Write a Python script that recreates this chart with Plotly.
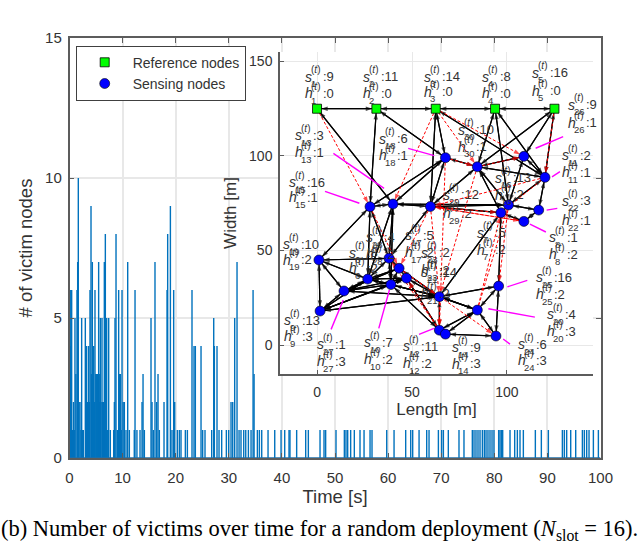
import plotly.graph_objects as go

# ---- time series: number of victim nodes
times = [0.09,0.15,0.25,0.41,0.6,0.75,0.9,1.03,1.2,1.41,1.54,1.66,1.8,1.98,2.15,2.29,2.45,2.6,2.98,3.1,3.23,3.4,3.5,3.61,3.75,3.86,4.05,4.15,4.3,4.4,4.55,4.7,4.8,4.95,5.1,5.24,5.35,5.49,5.6,5.7,5.81,5.95,6.12,6.25,6.4,6.56,6.65,6.75,6.9,7.0,7.2,7.38,7.69,8.32,8.45,8.57,8.76,9.01,9.26,9.4,9.58,9.75,9.89,10.1,10.33,10.64,10.96,11.27,12.2,12.34,12.7,13.28,13.66,13.85,14.1,15.35,15.54,15.79,16.1,16.42,16.67,16.92,17.8,18.37,18.49,19.0,19.3,19.62,19.81,20.31,20.69,21.0,21.82,22.2,23.07,23.45,23.7,24.77,25.08,25.52,26.78,27.16,27.28,27.78,28.16,28.66,29.54,29.98,30.42,30.74,31.11,31.55,31.93,32.3,32.81,33.19,33.69,34.19,34.57,34.76,35.38,35.76,36.2,37.39,38.65,39.84,40.53,41.34,41.52,42.78,44.48,44.98,47.18,47.93,48.24,50.19,51.76,52.07,52.39,52.95,53.64,54.71,55.47,56.6,56.97,59.74,61.12,63.31,64.26,64.63,65.83,67.27,67.71,69.47,70.08,70.41,71.34,73.35,74.29,75.86,76.18,76.55,76.93,77.31,77.75,78.12,78.44,78.81,79.19,79.57,79.94,80.82,81.07,81.33,81.58,82.96,83.84,84.34,84.84,85.47,87.73,88.86,90.18,92.82,93.19,93.63,94.39,95.33,96.59,96.96,97.4,97.84,98.66,99.6]
victims = [6,4,6,6,1,2,1,5,3,6,7,10,2,2,1,5,1,1,5,2,4,2,2,4,2,6,9,3,7,2,4,2,6,3,3,3,3,7,3,2,5,2,5,2,2,7,1,8,3,5,1,5,1,1,2,5,8,1,6,3,3,1,6,2,2,1,7,1,1,6,1,1,2,3,1,5,2,1,7,2,3,1,2,6,8,9,1,6,2,1,1,1,1,1,6,4,4,4,1,1,1,5,4,4,1,1,1,1,2,2,5,7,1,1,1,1,1,1,6,3,1,1,1,1,1,1,1,1,1,1,1,1,1,1,1,1,1,1,1,1,1,1,1,1,1,1,1,1,1,1,1,1,1,1,1,1,1,1,1,1,1,1,1,1,1,1,1,1,1,1,1,1,1,1,1,1,1,1,1,1,1,1,1,1,1,1,1,1,1,1,1,1,1,1,1,1,1,1]

# ---- node ids and positions in metres
ref_x = [0, 31.25, 62.5, 93.75, 125]
ref_y = [125, 125, 125, 125, 125]
sense_id = [6,7,8,9,10,11,12,13,14,15,16,17,18,19,20,21,22,23,24,25,26,27,28,29,30]
sense_x = [37.9,96.8,108.9,1.6,38.9,120,64.4,40,67.6,27.9,100.8,43.2,67.6,1,84.4,64.4,116.7,47.1,94.2,95.6,108.9,14.2,26.7,59.7,84.4]
sense_y = [45.9,70,65.4,18,32,88.7,7.9,74.6,5.8,73.2,74.1,40.6,99.1,45,18.5,25.6,71.4,35.4,4.8,31.2,99.8,28.6,34.9,73.3,94.3]

# ---- links between nodes
black_edges = [(1,2),(2,3),(3,4),(4,5),(1,13),(2,15),(2,18),(3,18),(3,29),(3,11),(4,30),(4,16),(4,11),
    (5,26),(5,30),(5,11),(18,30),(18,15),(18,13),(18,29),(30,16),(30,29),(30,26),(30,11),(30,7),(26,11),(26,16),
    (11,16),(11,22),(15,13),(13,29),(15,19),(19,9),(19,6),(19,28),(19,27),(9,27),(9,28),(9,10),(27,28),(27,10),
    (28,10),(6,17),(17,23),(10,23),(6,15),(13,6),(13,28),(29,6),(29,16),(29,7),(7,21),(7,25),(25,21),(21,20),
    (21,12),(21,23),(12,14),(12,23),(14,24),(24,20),(24,25),(20,25),(20,12),(20,14),(20,21),(13,16),(10,21),
    (27,21),(28,21),(10,12),(9,21),(17,21),(15,28),(13,10),(8,22),(7,8),(16,7),(16,22),(28,6),(10,17),
    (9,23),(27,23),(27,17),(28,17),(28,23),(10,6)]
red_edges = [(1,15),(3,13),(3,26),(5,11),(18,30),(30,26),(30,21),(11,7),(11,29),(15,17),(29,21),(29,8),(29,17),
    (17,21),(12,6),(20,7),(20,16),(17,24),(21,12),(16,25),(29,7),(12,23),(3,30),(18,12),(8,29)]

# ---- node labels
ids = list(range(1, 31))
s_vals = [9,11,14,8,16,8,5,1,13,7,2,11,3,9,16,13,5,6,10,4,14,3,2,6,16,9,1,4,12,10]
h_vals = [0,0,0,0,0,2,2,2,3,2,1,2,1,3,1,2,2,1,2,3,2,1,2,3,2,1,3,2,2,1]
label_x = [-6.8,23.7,55.8,86.3,112.6,16.3,83.7,121.6,-17.9,24.2,128.4,44.7,-12.1,70.5,-15.3,93.2,45.8,32.1,-18.4,120.5,54.2,128.4,54.2,105.3,114.7,131.6,-0.5,25.3,65.8,73.7]
label_sy = [141.8,141.8,141.8,141.8,143.9,48.7,59.3,57.1,13.2,1.6,100.5,-0.5,111.1,-1.1,86.2,88.4,58.2,109,53.4,16.4,38.6,76.2,48.7,0.5,36,127,0.5,57.1,79.4,113.8]
label_hy = [133.3,133.3,133.9,133.3,134.4,40.7,50.3,48.1,4.8,-7.4,91.5,-9.5,102.1,-10,78.3,79.4,49.2,100.5,45,7.4,27.5,66.1,39.7,-7.9,27,117.5,-8.5,48.1,69.8,104.8]

# ---- magenta leader segments, metres
lead_x0 = [8.6,48,4.2,115.1,123.7,120.9,112.1,13.8,38.1,53.7,100.2,90.2,98]
lead_y0 = [101.4,104,81.3,104.1,89,71.4,64,23.8,29.1,5.7,30.8,19.2,3.2]
lead_x1 = [35.3,61.7,22.3,129.6,127.9,126.5,120.5,7.4,32.5,61.6,110.7,114.7,101.6]
lead_y1 = [82.9,100.2,75,110.2,91.7,72.3,59.8,8.3,8.8,8.8,34.2,14.8,0.5]

GRID = "#e8e8e8"
AXC = "#5c5c5c"
TXT = "#333333"
W, H = 640, 543
pos = dict(zip(range(1, 6), zip(ref_x, ref_y)))
pos.update(zip(sense_id, zip(sense_x, sense_y)))


def edge_arrays(edges, both):
    xs, ys, sz = [], [], []
    for a, b in edges:
        pairs = [(a, b), (b, a)] if both else [(a, b)]
        for p, q in pairs:
            xs += [pos[p][0], pos[q][0], None]
            ys += [pos[p][1], pos[q][1], None]
            sz += [0, 7, 0]
    return xs, ys, sz


stem_x, stem_y = [], []
for t, v in zip(times, victims):
    stem_x += [t, t, None]
    stem_y += [0, v, None]

fig = go.Figure()
fig.add_trace(go.Scatter(x=stem_x, y=stem_y, mode="lines", line=dict(color="#0072BD", width=1.4), hoverinfo="skip",
                         showlegend=False, xaxis="x", yaxis="y"))
fig.add_trace(go.Scatter(x=[0, 100], y=[0, 0], mode="lines", line=dict(color="#1f6fa8", width=1.5), hoverinfo="skip",
                         cliponaxis=False, showlegend=False, xaxis="x", yaxis="y"))
bx, by, bs = edge_arrays(black_edges, True)
fig.add_trace(go.Scatter(x=bx, y=by, mode="lines+markers", xaxis="x2", yaxis="y2", showlegend=False,
                         line=dict(color="black", width=1.2),
                         marker=dict(symbol="arrow", size=bs, angleref="previous", standoff=4, color="black", line=dict(width=0))))
rx, ry, rs = edge_arrays(red_edges, False)
fig.add_trace(go.Scatter(x=rx, y=ry, mode="lines+markers", xaxis="x2", yaxis="y2", showlegend=False,
                         line=dict(color="#ff0000", width=1, dash="3px,2px"),
                         marker=dict(symbol="arrow", size=rs, angleref="previous", standoff=4, color="#ff0000", line=dict(width=0))))
lx, ly = [], []
for a, b, c, d in zip(lead_x0, lead_y0, lead_x1, lead_y1):
    lx += [a, c, None]
    ly += [b, d, None]
fig.add_trace(go.Scatter(x=lx, y=ly, mode="lines", xaxis="x2", yaxis="y2", showlegend=False,
                         line=dict(color="#ff00ff", width=1.4)))
fig.add_trace(go.Scatter(x=ref_x, y=ref_y, mode="markers", name="Reference nodes", xaxis="x2", yaxis="y2",
                         marker=dict(symbol="square", size=9, color="#00ff00", line=dict(color="black", width=0.8))))
fig.add_trace(go.Scatter(x=sense_x, y=sense_y, mode="markers", name="Sensing nodes", xaxis="x2", yaxis="y2",
                         marker=dict(symbol="circle", size=10, color="#0000ff", line=dict(color="black", width=0.6))))

ann = []


def lab(x, y, base, idx, val):
    common = dict(x=x, y=y, xref="x2", yref="y2", showarrow=False, xanchor="left", yanchor="middle", borderpad=0)
    ann.append(dict(text=f"<i>{base}</i>", xshift=0, yshift=0, font=dict(size=14, color=TXT, family="Liberation Sans"), **common))
    ann.append(dict(text="(<i>t</i>)", xshift=6, yshift=7, font=dict(size=10, color=TXT, family="Liberation Sans"), **common))
    ann.append(dict(text=str(idx), xshift=6, yshift=-7, font=dict(size=9.5, color=TXT, family="Liberation Sans"), **common))
    ann.append(dict(text=f":{val}", xshift=18, yshift=0, font=dict(size=13, color=TXT, family="Liberation Sans"), **common))


for i, s, h, x, ys, yh in zip(ids, s_vals, h_vals, label_x, label_sy, label_hy):
    lab(x, ys, "s", i, s)
    lab(x, yh, "h", i, h)

ann.append(dict(text="(b) Number of victims over time for a random deployment (<i>N</i><sub>slot</sub> = 16).",
                xref="paper", yref="paper", x=0, y=(543 - 530) / H, xanchor="left", yanchor="middle",
                showarrow=False, borderpad=0,
                font=dict(size=22.5, color="black", family="Liberation Serif")))

fig.update_layout(
    width=W, height=H, margin=dict(l=0, r=0, t=0, b=0, autoexpand=False), paper_bgcolor="white", plot_bgcolor="white",
    font=dict(family="Liberation Sans", color=TXT),
    xaxis=dict(domain=[69.5 / W, 600.5 / W], range=[0, 100], tickvals=list(range(0, 101, 10)), showgrid=True,
               gridcolor=GRID, gridwidth=1.5, zeroline=False, showline=True, linecolor=AXC, linewidth=1.5, mirror="ticks",
               ticks="inside", ticklen=5, tickcolor=AXC, tickfont=dict(size=15), ticklabelstandoff=5, automargin=True,
               title=dict(text="Time [s]", font=dict(size=18.5), standoff=5)),
    yaxis=dict(domain=[(H - 458) / H, (H - 38) / H], range=[0, 15], tickvals=[0, 5, 10, 15], showgrid=True,
               gridcolor=GRID, gridwidth=1.5, zeroline=False, showline=True, linecolor=AXC, linewidth=1.5, mirror="ticks",
               ticks="inside", ticklen=5, tickcolor=AXC, tickfont=dict(size=15), ticklabelstandoff=3, automargin=True,
               title=dict(text="# of victim nodes", font=dict(size=18.5), standoff=8)),
    xaxis2=dict(domain=[280 / W, 593 / W], range=[-19.5, 145.3], anchor="y2", tickvals=[0, 50, 100], showgrid=True,
                gridcolor=GRID, gridwidth=1.2, zeroline=False, showline=True, linecolor=AXC, linewidth=1.5,
                ticks="inside", ticklen=4, tickcolor=AXC, tickfont=dict(size=14), ticklabelstandoff=4, automargin=True,
                title=dict(text="Length [m]", font=dict(size=17), standoff=5)),
    yaxis2=dict(domain=[(H - 374) / H, (H - 52) / H], range=[-15.3, 155], anchor="x2", tickvals=[0, 50, 100, 150], showgrid=True,
                gridcolor=GRID, gridwidth=1.2, zeroline=False, showline=True, linecolor=AXC, linewidth=1.5,
                ticks="inside", ticklen=4, tickcolor=AXC, tickfont=dict(size=14), ticklabelstandoff=3, automargin=True,
                title=dict(text="Width [m]", font=dict(size=17), standoff=8)),
    legend=dict(x=75.7 / W, y=(H - 45.7) / H, xanchor="left", yanchor="top", bgcolor="white", bordercolor="#404040",
                borderwidth=1, font=dict(size=14, color=TXT), itemwidth=46),
    annotations=ann, showlegend=True,
)
fig.write_html("out.html", config={"displayModeBar": False}, post_script="document.body.style.margin='0';")
